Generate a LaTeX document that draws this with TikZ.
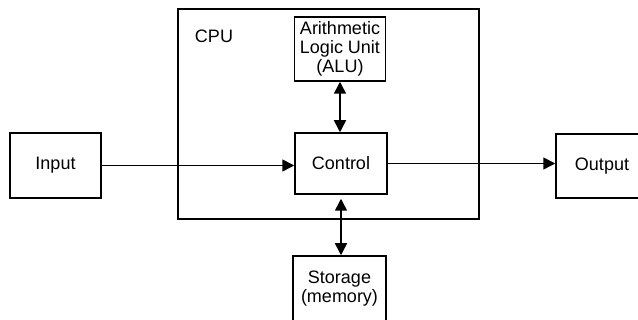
\documentclass[tikz,border=0pt]{standalone}
\usepackage{fontspec}
\setmainfont{Liberation Sans}
\usetikzlibrary{arrows.meta}
\begin{document}
\begin{tikzpicture}[x=1pt,y=-1pt,
  box/.style={draw, line width=1.5pt, inner sep=0pt, align=center,
    font=\fontsize{18}{19}\selectfont},
  conn/.style={line width=1.5pt, -{Triangle[length=12pt,width=12pt]}},
  biconn/.style={line width=1.5pt, {Triangle[length=12pt,width=12pt]}-{Triangle[length=12pt,width=12pt]}},
  lbl/.style={inner sep=0pt, font=\fontsize{18}{19}\selectfont}]
\useasboundingbox (0,0) rectangle (638,320);
\node[box, minimum width=301pt, minimum height=210pt] (cpu) at (328.5,114) {};
\node[lbl] (cpulbl) at (214,36) {CPU};
\node[box, minimum width=91pt, minimum height=65pt] (in) at (55.5,165.5) {Input};
\node[box, minimum width=92pt, minimum height=61pt] (ctrl) at (341,163.5) {Control};
\node[box, minimum width=91pt, minimum height=64pt] (alu) at (340,49) {Arithmetic\\Logic Unit\\(ALU)};
\node[box, minimum width=93pt, minimum height=66pt] (sto) at (339.5,289) {Storage\\(memory)};
\node[box, minimum width=92pt, minimum height=64pt] (out) at (602,166) {Output};
\draw[conn] (in.east) -- (in.east -| ctrl.west);
\draw[conn] (ctrl.east) -- (ctrl.east -| out.west);
\draw[biconn] (alu.south) -- (alu.south |- ctrl.north);
\draw[biconn] ([yshift=-4pt]ctrl.south) -- (ctrl.south |- sto.north);
\end{tikzpicture}
\end{document}
